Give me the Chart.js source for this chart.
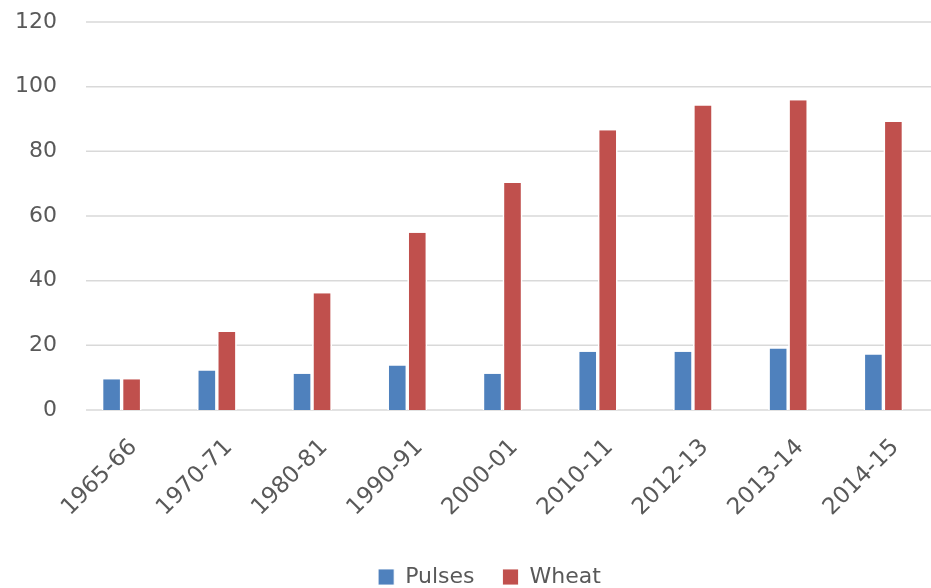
<!DOCTYPE html>
<html>
<head>
<meta charset="utf-8">
<script src="https://cdn.jsdelivr.net/npm/chart.js@4/dist/chart.umd.min.js"></script>
<style>
  html, body { margin: 0; padding: 0; background: #fff; }
  #wrap { width: 931px; height: 588px; position: relative; }
</style>
</head>
<body>
<div id="wrap"><canvas id="grafico"></canvas></div>
<script>
const anos = ["1965-66", "1970-71", "1980-81", "1990-91", "2000-01", "2010-11", "2012-13", "2013-14", "2014-15"];
const pulses = [9.5, 12.2, 11.2, 13.8, 11.2, 18.0, 18.0, 19.0, 17.2];
const wheat = [9.5, 24.1, 36.1, 54.8, 70.2, 86.5, 94.2, 95.8, 89.1];
const yTicks = [0, 20, 40, 60, 80, 100, 120];

// horizontal grid lines start a bit right of the plot's left edge, like the original
const gridLines = {
    id: "gridLines",
    beforeDatasetsDraw(chart) {
        const { ctx, chartArea, scales } = chart;
        ctx.save();
        ctx.strokeStyle = "#d9d9d9";
        ctx.lineWidth = 1.5;
        scales.y.ticks.forEach((t) => {
            const py = scales.y.getPixelForValue(t.value);
            ctx.beginPath();
            ctx.moveTo(chartArea.left + 12, py);
            ctx.lineTo(chartArea.right, py);
            ctx.stroke();
        });
        ctx.restore();
    },
};

// legend sits centred under the plot area rather than the whole canvas
const legendShift = {
    id: "legendShift",
    afterLayout(chart) {
        chart.legend.left += 48;
    },
};

function generateChart() {
    const barStyle = {
        borderColor: "#ffffff",
        borderWidth: { left: 1.7, right: 1.7, top: 0, bottom: 0 },
        borderSkipped: false,
        categoryPercentage: 0.42,
        barPercentage: 1,
    };
    const info = {
        labels: anos,
        datasets: [
            { label: "Pulses", data: pulses, backgroundColor: "#4f81bd", ...barStyle },
            { label: "Wheat", data: wheat, backgroundColor: "#c0504d", ...barStyle },
        ],
    };
    const options = {
        responsive: true,
        maintainAspectRatio: false,
        animation: false,
        layout: { padding: { top: 22, right: 0, left: 0, bottom: -10 } },
        scales: {
            y: {
                min: 0,
                max: 120,
                afterBuildTicks: (scale) => {
                    scale.ticks = yTicks.map((v) => ({ value: v }));
                },
                afterFit: (scale) => {
                    scale.width = 74;
                    scale.paddingTop = 0;
                    scale.paddingBottom = 0;
                },
                ticks: {
                    color: "#595959",
                    font: { family: "DejaVu Sans", size: 22 },
                    padding: 17,
                },
                grid: { display: false, drawTicks: false },
                border: { display: false },
            },
            x: {
                afterFit: (scale) => { scale.height = 128; },
                ticks: {
                    color: "#595959",
                    font: { family: "DejaVu Sans", size: 23 },
                    maxRotation: 45,
                    minRotation: 45,
                    labelOffset: 12,
                    padding: 24,
                },
                grid: { display: false, drawTicks: false },
                border: { display: false },
            },
        },
        plugins: {
            legend: {
                position: "bottom",
                labels: {
                    color: "#595959",
                    font: { family: "DejaVu Sans", size: 22 },
                    boxWidth: 16,
                    boxHeight: 16,
                    padding: 28,
                },
            },
            tooltip: { enabled: false },
        },
    };
    const config = {
        type: "bar",
        data: info,
        options,
        plugins: [gridLines, legendShift],
    };
    return new Chart(document.getElementById("grafico"), config);
}
generateChart();
</script>
</body>
</html>
